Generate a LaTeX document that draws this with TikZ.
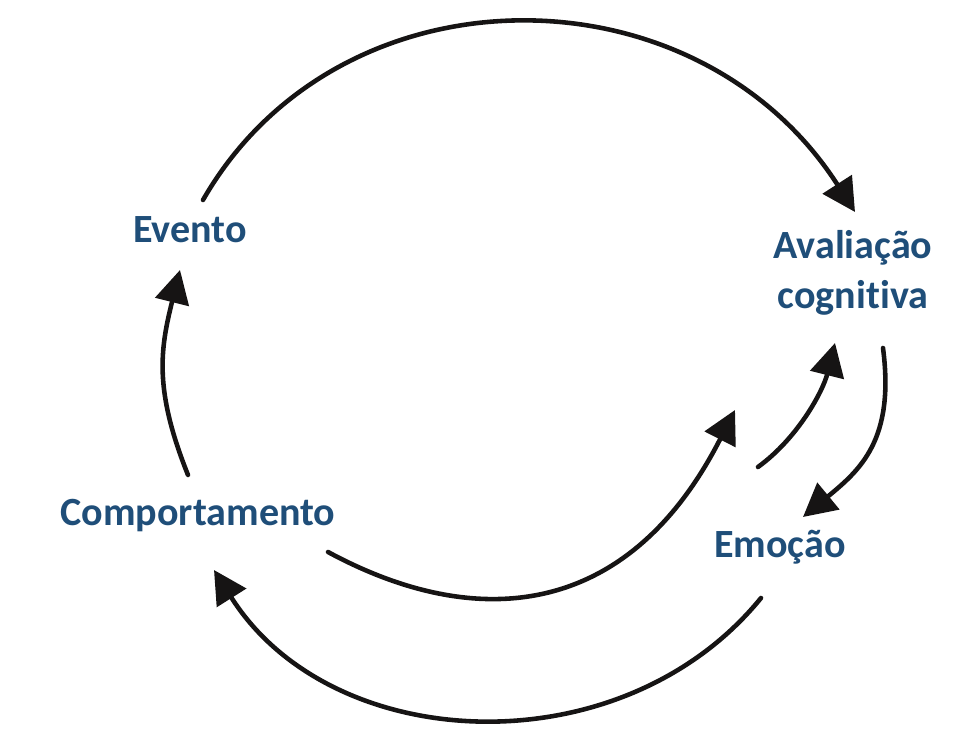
\documentclass[tikz,border=0pt]{standalone}
\usepackage{fontspec}
\setmainfont{Carlito}[Ligatures=NoCommon]
\usetikzlibrary{arrows.meta}
\definecolor{lblblue}{RGB}{31,78,121}
\definecolor{arcblack}{RGB}{22,20,20}
\begin{document}
\begin{tikzpicture}[x=.02cm,y=-.02cm,->,>={Triangle[length=6.6mm,width=6.8mm]},
    arcblack,line width=2.6pt,line cap=round,
    lbl/.style={font=\bfseries\fontsize{22.8}{28.5}\selectfont,text=lblblue,align=center}]
  \useasboundingbox (0,0) rectangle (974,736);
  \node[lbl,anchor=base] (ev) at (190,243) {Evento};
  \node[lbl] (av) at (853,273) {Avaliação\\cognitiva};
  \node[lbl,anchor=base] (em) at (780,558) {Emoção};
  \node[lbl,anchor=base] (co) at (198,525) {Comportamento};
  \draw ([shift={(13,-43)}]ev.base) .. controls +(136,-237) and +(-160,-249) .. ([shift={(2,-61)}]av.center);
  \draw ([shift={(30,75)}]av.center) .. controls +(12,92) and +(57,-47) .. ([shift={(23,-41)}]em.base);
  \draw ([shift={(-22,-91)}]em.base) .. controls +(40,-29) and +(-12,48) .. ([shift={(-18,70)}]av.center);
  \draw ([shift={(-19,40)}]em.base) .. controls +(-139,171) and +(118,187) .. ([shift={(16,45)}]co.base);
  \draw ([shift={(130,27)}]co.base) .. controls +(148,80) and +(-107,210) .. ([shift={(-118,137)}]av.center);
  \draw ([shift={(-10,-50)}]co.base) .. controls +(-34,-85) and +(-20,80) .. ([shift={(-10,27)}]ev.base);
\end{tikzpicture}
\end{document}
